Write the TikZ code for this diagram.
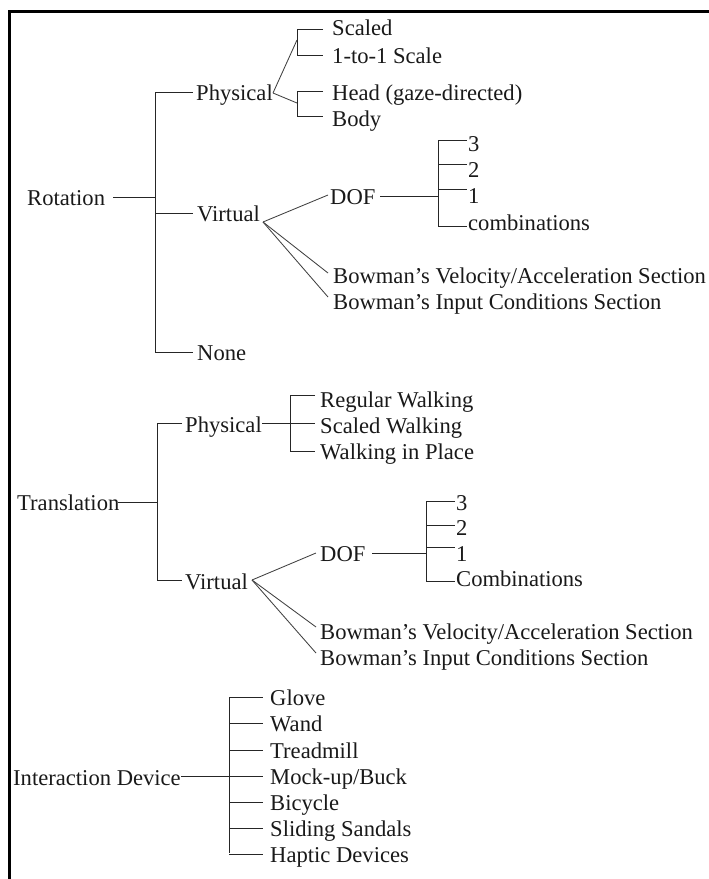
\documentclass[tikz,border=0pt]{standalone}
\usepackage{fontspec}
\setmainfont{Liberation Serif}
\begin{document}
\begin{tikzpicture}[x=1pt,y=-1pt,
  lbl/.style={anchor=west,inner sep=0pt,font=\fontsize{22.6}{26}\selectfont,text height=20pt,text depth=4pt,text=black!90},
  conn/.style={draw=black!85,line width=1pt},
  diag/.style={draw=black!75,line width=0.85pt}]
\useasboundingbox (0,0) rectangle (709,879);
% frame
\draw[line width=3pt,line join=miter] (9.5,890) -- (9.5,11.5) -- (720,11.5);

% ---------------- Rotation ----------------
\node[lbl] (rot) at (27,197) {Rotation};
\node[lbl] (rphys) at (196,92) {Physical};
\node[lbl] (rvirt) at (197,213) {Virtual};
\node[lbl] (rnone) at (197,352) {None};
\node[lbl] (scaled) at (332,27) {Scaled};
\node[lbl] (onetoone) at (332,55) {1-to-1 Scale};
\node[lbl] (head) at (332,92) {Head (gaze-directed)};
\node[lbl] (body) at (332,118) {Body};
\node[lbl] (rdof) at (330,196) {DOF};
\node[lbl] (rthree) at (468,143) {3};
\node[lbl] (rtwo) at (468,169) {2};
\node[lbl] (rone) at (468,195) {1};
\node[lbl] (rcomb) at (468,222) {combinations};
\node[lbl] (rbv) at (333,275) {Bowman’s Velocity/Acceleration Section};
\node[lbl] (rbi) at (333,301) {Bowman’s Input Conditions Section};

\coordinate (rtrunk) at (155,197);
\coordinate (rvtx) at (263,222);
\coordinate (rphv) at (273,93);
\coordinate (bra) at (297,29);
\coordinate (brb) at (297,91);
\coordinate (rdbr) at (438,196);

\draw[conn] (113,197) -- (rtrunk);
\draw[conn] (rphys.west) ++(-3,0) coordinate (rpw) (rtrunk |- rpw) -- (rtrunk |- rnone.west) -- ++(38,0);
\draw[conn] (rtrunk |- rpw) -- (rpw);
\draw[conn] (rtrunk |- rvirt.west) -- ++(38,0);
% physical brackets
\draw[diag] (rphv) -- (297,40);
\draw[diag] (rphv) -- (297,103);
\draw[conn] (323,29) -- (bra) -- (297,55) -- (323,55);
\draw[conn] (323,91) -- (brb) -- (297,116) -- (323,116);
% virtual
\draw[diag] (rvtx) -- (328,195);
\draw[diag] (rvtx) -- (328,273);
\draw[diag] (rvtx) -- (328,297);
\draw[conn] (380,196) -- (rdbr);
\draw[conn] (467,140) -- (438,140) -- (438,226) -- (467,226);
\draw[conn] (438,164) -- (467,164);
\draw[conn] (438,189) -- (467,189);

% ---------------- Translation ----------------
\node[lbl] (trans) at (17,502) {Translation};
\node[lbl] (tphys) at (185,424) {Physical};
\node[lbl] (tvirt) at (185,581) {Virtual};
\node[lbl] (treg) at (320,399) {Regular Walking};
\node[lbl] (tscw) at (320,425) {Scaled Walking};
\node[lbl] (twip) at (320,451) {Walking in Place};
\node[lbl] (tdof) at (320,553) {DOF};
\node[lbl] (tthree) at (456,502) {3};
\node[lbl] (ttwo) at (456,527) {2};
\node[lbl] (tone) at (456,553) {1};
\node[lbl] (tcomb) at (456,578) {Combinations};
\node[lbl] (tbv) at (320,631) {Bowman’s Velocity/Acceleration Section};
\node[lbl] (tbi) at (320,657) {Bowman’s Input Conditions Section};

\coordinate (ttrunk) at (157,502);
\coordinate (tvtx) at (252,580);

\draw[conn] (118,502) -- (ttrunk);
\draw[conn] (182,423) -- (157,423) -- (157,580) -- (182,580);
\draw[conn] (262,423) -- (290,423);
\draw[conn] (315,395) -- (290,395) -- (290,451) -- (315,451);
\draw[conn] (290,423) -- (315,423);
\draw[diag] (tvtx) -- (316,553);
\draw[diag] (tvtx) -- (316,627);
\draw[diag] (tvtx) -- (316,653);
\draw[conn] (372,553) -- (426,553);
\draw[conn] (455,501) -- (426,501) -- (426,581) -- (455,581);
\draw[conn] (426,525) -- (455,525);
\draw[conn] (426,547) -- (455,547);

% ---------------- Interaction Device ----------------
\node[lbl] (idev) at (13,777) {Interaction Device};
\node[lbl] (iglove) at (270,697) {Glove};
\node[lbl] (iwand) at (270,723) {Wand};
\node[lbl] (itread) at (270,750) {Treadmill};
\node[lbl] (imock) at (270,776) {Mock-up/Buck};
\node[lbl] (ibike) at (270,802) {Bicycle};
\node[lbl] (isand) at (270,828) {Sliding Sandals};
\node[lbl] (ihapt) at (270,854) {Haptic Devices};

\coordinate (ibr) at (229,776);
\draw[conn] (181,776) -- (ibr);
\draw[conn] (229,697) -- (229,853);
\foreach \n in {iglove,iwand,itread,imock,ibike,isand,ihapt}
  \draw[conn] (ibr |- \n.west) -- ++(34,0);
\end{tikzpicture}
\end{document}
